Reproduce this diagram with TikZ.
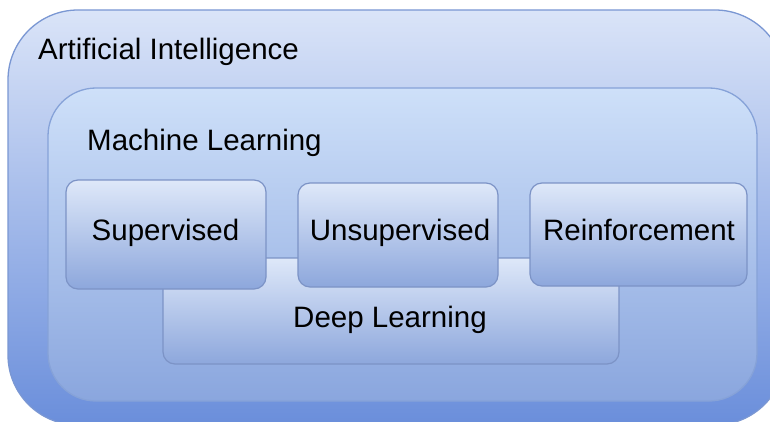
\documentclass[tikz,border=0pt]{standalone}
\usepackage{fontspec}
\setmainfont{Liberation Sans}
\definecolor{aiTop}{HTML}{DAE4F8}
\definecolor{aiBot}{HTML}{6A8EDB}
\definecolor{aiLine}{HTML}{7A97D3}
\definecolor{mlTop}{HTML}{CEE0F9}
\definecolor{mlBot}{HTML}{8AA6DE}
\definecolor{mlLine}{HTML}{86A2D8}
\definecolor{bxTop}{HTML}{DEE8F9}
\definecolor{bxBot}{HTML}{8DA7DC}
\definecolor{bxLine}{HTML}{7C93C6}
\tikzset{
  lbl/.style={font=\fontsize{29.5}{32}\selectfont, text=black, inner sep=0pt},
  aibox/.style={draw=aiLine, line width=1.3pt, rounded corners=70pt, top color=aiTop, bottom color=aiBot, inner sep=0pt},
  mlbox/.style={draw=mlLine, line width=1.3pt, rounded corners=48pt, top color=mlTop, bottom color=mlBot, inner sep=0pt},
  subbox/.style={draw=bxLine, line width=1.2pt, rounded corners=12pt, top color=bxTop, bottom color=bxBot, inner sep=0pt},
}
\begin{document}
\begin{tikzpicture}[x=1pt,y=1pt]
\clip (0,0) rectangle (770,421);
\fill[white] (0,0) rectangle (770,421);
\node[aibox, minimum width=777pt, minimum height=415pt] (ai) at (396.5,203.5) {};
\node[mlbox, minimum width=709pt, minimum height=313pt] (ml) at (402.5,176.5) {};
\node[subbox, minimum width=456pt, minimum height=106pt] (dl) at (391,110) {};
\node[subbox, minimum width=200pt, minimum height=109pt] (sup) at (166,186.5) {};
\node[subbox, minimum width=200pt, minimum height=104pt] (uns) at (398,186) {};
\node[subbox, minimum width=217pt, minimum height=103pt] (rei) at (638.5,186.5) {};
\node[lbl, anchor=base west] (aiT) at (38,361) {Artificial Intelligence};
\node[lbl, anchor=base west] (mlT) at (87,271) {Machine Learning};
\node[lbl, anchor=base] (supT) at (165.5,181) {Supervised};
\node[lbl, anchor=base] (unsT) at (400,181) {Unsupervised};
\node[lbl, anchor=base] (reiT) at (639,181) {Reinforcement};
\node[lbl, anchor=base] (dlT) at (390,94) {Deep Learning};
\end{tikzpicture}
\end{document}
